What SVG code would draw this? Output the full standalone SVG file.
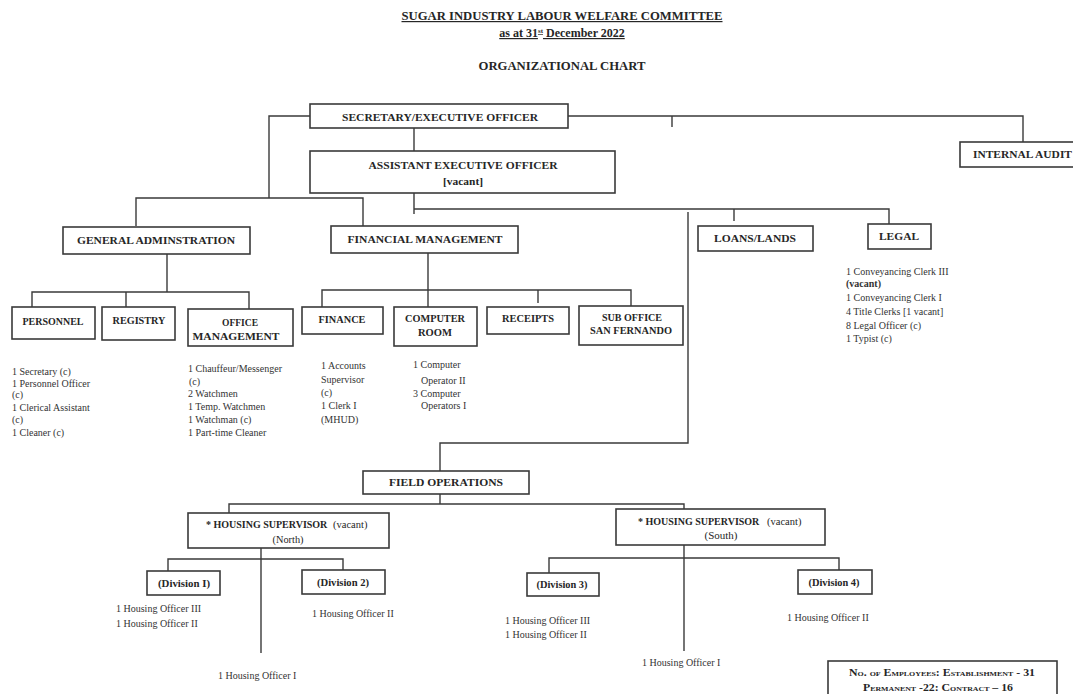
<svg xmlns="http://www.w3.org/2000/svg" width="1073" height="694" viewBox="0 0 1073 694">
<style>
.bg{fill:#fff}
.box{fill:#fff;stroke:#3a3a3a;stroke-width:1.6}
.ln{fill:none;stroke:#3a3a3a;stroke-width:1.4}
.lbl{font-family:"Liberation Serif","Times New Roman",serif;font-weight:bold;font-size:11px;fill:#262626;text-anchor:middle}
.ttl{font-family:"Liberation Serif","Times New Roman",serif;font-weight:bold;font-size:12px;fill:#262626;text-anchor:middle}
.txt{font-family:"Liberation Serif","Times New Roman",serif;font-size:10px;fill:#333}
.reg{font-weight:normal}
.sc{font-family:"Liberation Serif","Times New Roman",serif;font-weight:bold;font-size:10.5px;font-variant:small-caps;fill:#262626;text-anchor:middle}
</style>
<rect class="bg" x="0" y="0" width="1073" height="694"/>

<g id="title">
<text class="ttl" x="562" y="20" textLength="321" lengthAdjust="spacingAndGlyphs" text-decoration="underline">SUGAR INDUSTRY LABOUR WELFARE COMMITTEE</text>
<text class="ttl" x="562" y="37" font-size="11" text-decoration="underline">as at 31<tspan font-size="7" dy="-4">st</tspan><tspan dy="4"> December 2022</tspan></text>
<text class="ttl" x="562" y="70" font-size="11.5" textLength="167" lengthAdjust="spacingAndGlyphs">ORGANIZATIONAL CHART</text>
</g>

<g id="connectors">
<path class="ln" d="M310 116 H269 V198"/>
<path class="ln" d="M136 226 V198 H363 V226"/>
<path class="ln" d="M414 128 V151"/>
<path class="ln" d="M568 116 H1023 V142"/>
<path class="ln" d="M672 116 V127"/>
<path class="ln" d="M414 193 V214"/>
<path class="ln" d="M414 209 H889 V224"/>
<path class="ln" d="M734 209 V221"/>
<path class="ln" d="M688 212 V443 H440 V471"/>
<path class="ln" d="M167 254 V292"/>
<path class="ln" d="M32 307 V292 H249 V309"/>
<path class="ln" d="M126 292 V307"/>
<path class="ln" d="M428 253 V307"/>
<path class="ln" d="M322 307 V290 H631 V306"/>
<path class="ln" d="M538 290 V303"/>
<path class="ln" d="M440 494 V504"/>
<path class="ln" d="M229 513 V504 H684 V509"/>
<path class="ln" d="M261 548 V653"/>
<path class="ln" d="M168 571 V559 H343 V570"/>
<path class="ln" d="M684 545 V651"/>
<path class="ln" d="M549 573 V558 H839 V570"/>
</g>

<g id="secretary">
<rect class="box" x="310" y="104" width="258" height="24"/>
<text class="lbl" x="440" y="121" textLength="196" lengthAdjust="spacingAndGlyphs">SECRETARY/EXECUTIVE OFFICER</text>
</g>

<g id="assistant">
<rect class="box" x="310" y="151" width="305" height="42"/>
<text class="lbl" x="463" y="169" textLength="189" lengthAdjust="spacingAndGlyphs">ASSISTANT EXECUTIVE OFFICER</text>
<text class="lbl" x="463" y="185" textLength="40" lengthAdjust="spacingAndGlyphs">[vacant]</text>
</g>

<g id="internal-audit">
<rect class="box" x="960" y="142" width="130" height="25"/>
<text class="lbl" x="973" y="158" style="text-anchor:start" textLength="99" lengthAdjust="spacingAndGlyphs">INTERNAL AUDIT</text>
</g>

<g id="general-admin">
<rect class="box" x="63" y="227" width="187" height="27"/>
<text class="lbl" x="156" y="244" textLength="158" lengthAdjust="spacingAndGlyphs">GENERAL ADMINSTRATION</text>
</g>

<g id="financial-management">
<rect class="box" x="331" y="226" width="187" height="27"/>
<text class="lbl" x="425" y="243" textLength="155" lengthAdjust="spacingAndGlyphs">FINANCIAL MANAGEMENT</text>
</g>

<g id="loans-lands">
<rect class="box" x="698" y="226" width="115" height="25"/>
<text class="lbl" x="755" y="242" textLength="82" lengthAdjust="spacingAndGlyphs">LOANS/LANDS</text>
</g>

<g id="legal">
<rect class="box" x="868" y="224" width="63" height="25"/>
<text class="lbl" x="899" y="240" textLength="40" lengthAdjust="spacingAndGlyphs">LEGAL</text>
<text class="txt" x="846" y="275">1 Conveyancing Clerk III</text>
<text class="txt" x="846" y="287" font-weight="bold" font-size="9">(vacant)</text>
<text class="txt" x="846" y="301">1 Conveyancing Clerk I</text>
<text class="txt" x="846" y="315">4 Title Clerks [1 vacant]</text>
<text class="txt" x="846" y="329">8 Legal Officer (c)</text>
<text class="txt" x="846" y="342">1 Typist (c)</text>
</g>

<g id="personnel">
<rect class="box" x="12" y="307" width="83" height="32"/>
<text class="lbl" x="53" y="325" textLength="61" lengthAdjust="spacingAndGlyphs">PERSONNEL</text>
<text class="txt" x="12" y="375">1 Secretary (c)</text>
<text class="txt" x="12" y="387">1 Personnel Officer</text>
<text class="txt" x="12" y="398">(c)</text>
<text class="txt" x="12" y="411">1 Clerical Assistant</text>
<text class="txt" x="12" y="423">(c)</text>
<text class="txt" x="12" y="436">1 Cleaner (c)</text>
</g>

<g id="registry">
<rect class="box" x="102" y="307" width="73" height="33"/>
<text class="lbl" x="139" y="324" textLength="53" lengthAdjust="spacingAndGlyphs">REGISTRY</text>
</g>

<g id="office-management">
<rect class="box" x="188" y="309" width="105" height="37"/>
<text class="lbl" x="240" y="326" textLength="36" lengthAdjust="spacingAndGlyphs">OFFICE</text>
<text class="lbl" x="236" y="340" textLength="87" lengthAdjust="spacingAndGlyphs">MANAGEMENT</text>
<text class="txt" x="188" y="372">1 Chauffeur/Messenger</text>
<text class="txt" x="189" y="385">(c)</text>
<text class="txt" x="188" y="397">2 Watchmen</text>
<text class="txt" x="188" y="410">1 Temp. Watchmen</text>
<text class="txt" x="188" y="423">1 Watchman (c)</text>
<text class="txt" x="188" y="436">1 Part-time Cleaner</text>
</g>

<g id="finance">
<rect class="box" x="302" y="307" width="81" height="27"/>
<text class="lbl" x="342" y="323" textLength="47" lengthAdjust="spacingAndGlyphs">FINANCE</text>
<text class="txt" x="321" y="369">1 Accounts</text>
<text class="txt" x="321" y="383">Supervisor</text>
<text class="txt" x="321" y="396">(c)</text>
<text class="txt" x="321" y="409">1 Clerk I</text>
<text class="txt" x="321" y="423">(MHUD)</text>
</g>

<g id="computer-room">
<rect class="box" x="394" y="307" width="83" height="39"/>
<text class="lbl" x="435" y="322" textLength="60" lengthAdjust="spacingAndGlyphs">COMPUTER</text>
<text class="lbl" x="435" y="336" textLength="34" lengthAdjust="spacingAndGlyphs">ROOM</text>
<text class="txt" x="413" y="368">1 Computer</text>
<text class="txt" x="421" y="384">Operator II</text>
<text class="txt" x="413" y="397">3 Computer</text>
<text class="txt" x="421" y="409">Operators I</text>
</g>

<g id="receipts">
<rect class="box" x="487" y="307" width="82" height="27"/>
<text class="lbl" x="528" y="322" textLength="52" lengthAdjust="spacingAndGlyphs">RECEIPTS</text>
</g>

<g id="sub-office">
<rect class="box" x="579" y="306" width="104" height="39"/>
<text class="lbl" x="632" y="321" textLength="60" lengthAdjust="spacingAndGlyphs">SUB OFFICE</text>
<text class="lbl" x="631" y="334" textLength="82" lengthAdjust="spacingAndGlyphs">SAN FERNANDO</text>
</g>

<g id="field-operations">
<rect class="box" x="363" y="471" width="166" height="23"/>
<text class="lbl" x="446" y="486" textLength="114" lengthAdjust="spacingAndGlyphs">FIELD OPERATIONS</text>
</g>

<g id="housing-north">
<rect class="box" x="188" y="513" width="201" height="35"/>
<text class="lbl" x="206" y="528" style="text-anchor:start;font-size:10px">* HOUSING SUPERVISOR</text>
<text class="lbl reg" x="333" y="528" style="text-anchor:start;font-size:10.5px">(vacant)</text>
<text class="lbl reg" x="288" y="543" textLength="31" lengthAdjust="spacingAndGlyphs">(North)</text>
<text class="txt" x="218" y="679">1 Housing Officer I</text>
</g>

<g id="division-1">
<rect class="box" x="147" y="571" width="73" height="24"/>
<text class="lbl" x="184" y="587" textLength="52" lengthAdjust="spacingAndGlyphs">(Division I)</text>
<text class="txt" x="116" y="612">1 Housing Officer III</text>
<text class="txt" x="116" y="627">1 Housing Officer II</text>
</g>

<g id="division-2">
<rect class="box" x="302" y="570" width="83" height="24"/>
<text class="lbl" x="343" y="586" textLength="52" lengthAdjust="spacingAndGlyphs">(Division 2)</text>
<text class="txt" x="312" y="617">1 Housing Officer II</text>
</g>

<g id="housing-south">
<rect class="box" x="616" y="509" width="209" height="36"/>
<text class="lbl" x="638" y="525" style="text-anchor:start;font-size:10px">* HOUSING SUPERVISOR</text>
<text class="lbl reg" x="767" y="525" style="text-anchor:start;font-size:10.5px">(vacant)</text>
<text class="lbl reg" x="721" y="539" textLength="33" lengthAdjust="spacingAndGlyphs">(South)</text>
<text class="txt" x="642" y="666">1 Housing Officer I</text>
</g>

<g id="division-3">
<rect class="box" x="527" y="573" width="72" height="23"/>
<text class="lbl" x="562" y="588" textLength="51" lengthAdjust="spacingAndGlyphs">(Division 3)</text>
<text class="txt" x="505" y="624">1 Housing Officer III</text>
<text class="txt" x="505" y="638">1 Housing Officer II</text>
</g>

<g id="division-4">
<rect class="box" x="798" y="570" width="74" height="24"/>
<text class="lbl" x="834" y="586" textLength="51" lengthAdjust="spacingAndGlyphs">(Division 4)</text>
<text class="txt" x="787" y="621">1 Housing Officer II</text>
</g>

<g id="employees">
<rect class="box" x="828" y="661" width="229" height="45"/>
<text class="sc" x="942" y="676" textLength="186" lengthAdjust="spacingAndGlyphs">No. of Employees:   Establishment - 31</text>
<text class="sc" x="938" y="691" textLength="150" lengthAdjust="spacingAndGlyphs">Permanent -22: Contract – 16</text>
</g>
</svg>
